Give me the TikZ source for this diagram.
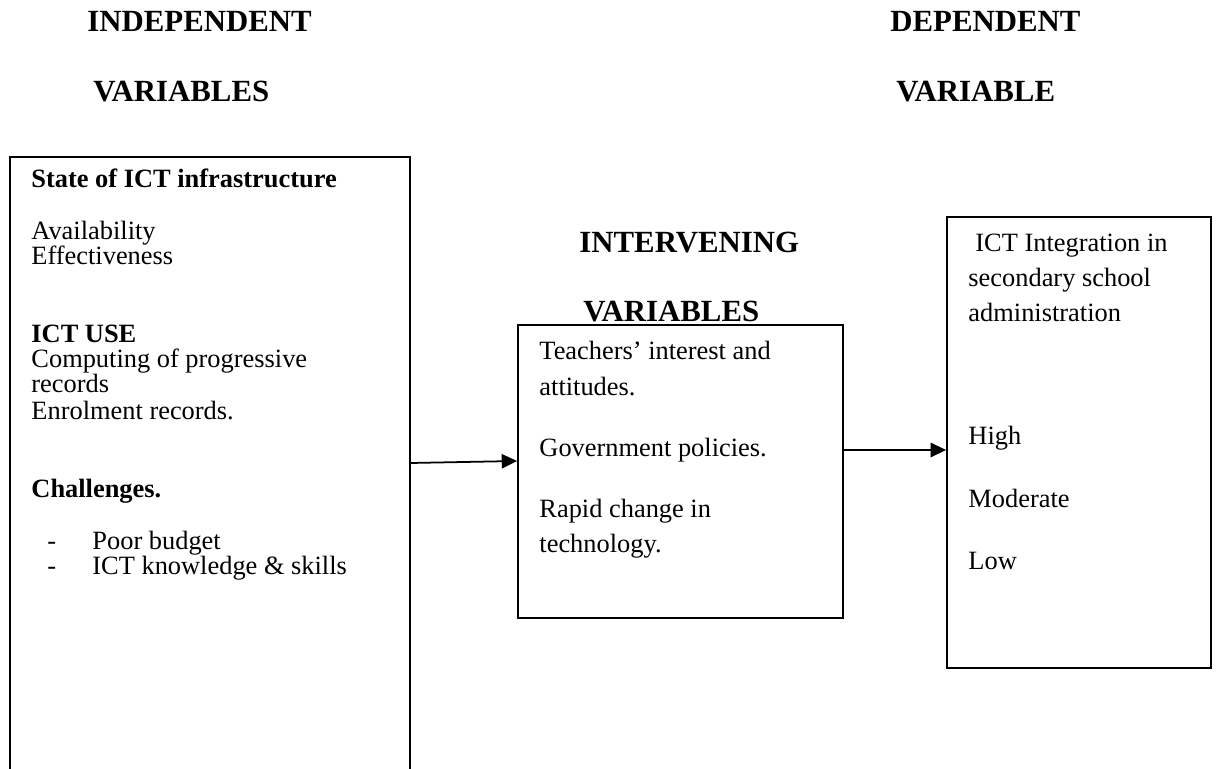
\documentclass[tikz,border=0pt]{standalone}
\usepackage{fontspec}
\setmainfont{Liberation Serif}
\usetikzlibrary{arrows.meta, positioning, fit}

\begin{document}
\begin{tikzpicture}[x=0.4545pt, y=-0.4545pt,
        box/.style={draw, line width=0.8pt, inner sep=0pt},
        txt/.style={anchor=base west, inner sep=0pt, font=\fontsize{12}{14}\selectfont},
        head/.style={anchor=base west, inner sep=0pt, font=\fontsize{14}{16}\selectfont\bfseries},
        arr/.style={-{Triangle[length=7pt, width=6.5pt]}, line width=0.8pt}]
        \useasboundingbox (0,0) rectangle (1216,769);
        \clip (0,0) rectangle (1216,769);
        \node[head] (indh1) at (87,32) {INDEPENDENT};
        \node[head] (indh2) at (93,102) {VARIABLES};
        \node[head] (deph1) at (890,32) {DEPENDENT};
        \node[head] (deph2) at (896,102) {VARIABLE};
        \node[head] (inth1) at (579,253) {INTERVENING};
        \node[head] (inth2) at (583,322) {VARIABLES};
        \node[box, fit={(10,157) (410,800)}] (indep) {};
        \node[box, fit={(518,325) (843,618)}] (interv) {};
        \node[box, fit={(947,217) (1211,668)}] (dep) {};
        \node[txt, font=\fontsize{12}{14}\selectfont\bfseries] (state) at (31,188) {State of ICT infrastructure};
        \node[txt] (avail) at (31,240) {Availability};
        \node[txt] (effect) at (31,265) {Effectiveness};
        \node[txt, font=\fontsize{12}{14}\selectfont\bfseries] (use) at (31,343) {ICT USE};
        \node[txt] (comp1) at (31,368) {Computing of progressive};
        \node[txt] (comp2) at (31,393) {records};
        \node[txt] (enrol) at (31,420) {Enrolment records.};
        \node[txt, font=\fontsize{12}{14}\selectfont\bfseries] (chall) at (31,498) {Challenges.};
        \node[txt] (dash1) at (47,550) {-};
        \node[txt] (budget) at (92,550) {Poor budget};
        \node[txt] (dash2) at (47,575) {-};
        \node[txt] (skills) at (92,575) {ICT knowledge \& skills};
        \node[txt] (teach1) at (539,360) {Teachers’ interest and};
        \node[txt] (teach2) at (539,396) {attitudes.};
        \node[txt] (gov) at (539,457) {Government policies.};
        \node[txt] (rapid1) at (539,518) {Rapid change in};
        \node[txt] (rapid2) at (539,553) {technology.};
        \node[txt] (integ1) at (975,252) {ICT Integration in};
        \node[txt] (integ2) at (968,287) {secondary school};
        \node[txt] (integ3) at (968,322) {administration};
        \node[txt] (high) at (968,445) {High};
        \node[txt] (moder) at (968,508) {Moderate};
        \node[txt] (low) at (968,570) {Low};
        \draw[arr] (indep.east |- 0,463) -- (interv.west |- 0,461);
        \draw[arr] (interv.east |- 0,450) -- (dep.west |- 0,450);
    \end{tikzpicture}
\end{document}
